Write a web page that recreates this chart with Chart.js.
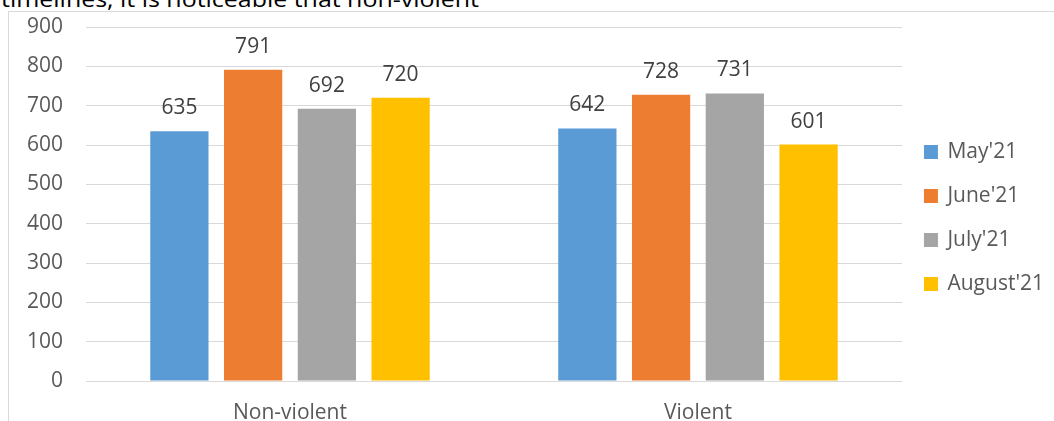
<!DOCTYPE html>
<html>
<head>
<meta charset="utf-8">
<script src="https://cdn.jsdelivr.net/npm/chart.js@4"></script>
<style>
  html, body { margin: 0; padding: 0; width: 1054px; height: 421px; overflow: hidden; background: #ffffff; }
  #caption { position: absolute; left: 0; top: 0; }
  #frame { position: absolute; left: 8px; top: 11px; width: 1100px; height: 500px; border: 1px solid #d9d9d9; box-sizing: border-box; }
  #wrap { position: absolute; left: 0; top: 0; width: 1054px; height: 436px; }
</style>
</head>
<body>
<svg id="caption" width="560" height="12"><text x="1" y="7" font-family="Open Sans" font-size="22" textLength="478" lengthAdjust="spacingAndGlyphs" fill="#000000">timelines, it is noticeable that non-violent</text></svg>
<div id="frame"></div>
<div id="wrap"><canvas id="chart"></canvas></div>
<script>
// Incident counts per month, split by type
const categories = ['Non-violent', 'Violent'];
const seriesNames = ["May'21", "June'21", "July'21", "August'21"];
const may21 = [635, 642];
const june21 = [791, 728];
const july21 = [692, 731];
const august21 = [720, 601];
const seriesColors = ['#5B9BD5', '#ED7D31', '#A5A5A5', '#FFC000'];
const yMin = 0;
const yMax = 900;
const yStep = 100;

const FONT = "'Open Sans', sans-serif";

// Value labels drawn just above each bar
const valueLabels = {
  id: 'valueLabels',
  afterDatasetsDraw(chart) {
    const ctx = chart.ctx;
    ctx.save();
    ctx.font = '21px ' + FONT;
    ctx.fillStyle = '#404040';
    ctx.textAlign = 'center';
    ctx.textBaseline = 'alphabetic';
    chart.data.datasets.forEach((ds, i) => {
      chart.getDatasetMeta(i).data.forEach((bar, j) => {
        ctx.fillText(String(ds.data[j]), bar.x, bar.y - 17);
      });
    });
    ctx.restore();
  }
};

const seriesValues = [may21, june21, july21, august21];

new Chart(document.getElementById('chart'), {
  type: 'bar',
  data: {
    labels: categories,
    datasets: seriesNames.map((name, i) => ({
      label: name,
      data: seriesValues[i],
      backgroundColor: seriesColors[i],
      borderWidth: 0,
      barPercentage: 0.79,
      categoryPercentage: 0.723
    }))
  },
  options: {
    responsive: true,
    maintainAspectRatio: false,
    animation: false,
    devicePixelRatio: 1,
    layout: { padding: { left: 12.6, top: 0, right: 0, bottom: 0 } },
    plugins: {
      tooltip: { enabled: false },
      legend: {
        position: 'right',
        labels: {
          usePointStyle: true,
          pointStyle: 'rect',
          boxWidth: 12,
          boxHeight: 14,
          padding: 23,
          color: '#595959',
          font: { family: FONT, size: 21 }
        }
      }
    },
    scales: {
      x: {
        grid: { display: true, color: 'transparent', tickColor: 'transparent', drawTicks: true, tickLength: 8.2 },
        border: { display: true, color: '#d9d9d9', width: 1 },
        ticks: { color: '#595959', font: { family: FONT, size: 21 }, padding: 10.8 }
      },
      y: {
        min: yMin,
        max: yMax,
        ticks: { stepSize: yStep, color: '#595959', font: { family: FONT, size: 21 }, padding: 14.4 },
        grid: { color: '#d9d9d9', lineWidth: 1, drawTicks: true, tickLength: 8.6, tickColor: 'transparent' },
        border: { display: false }
      }
    }
  },
  plugins: [valueLabels]
});
</script>
</body>
</html>
